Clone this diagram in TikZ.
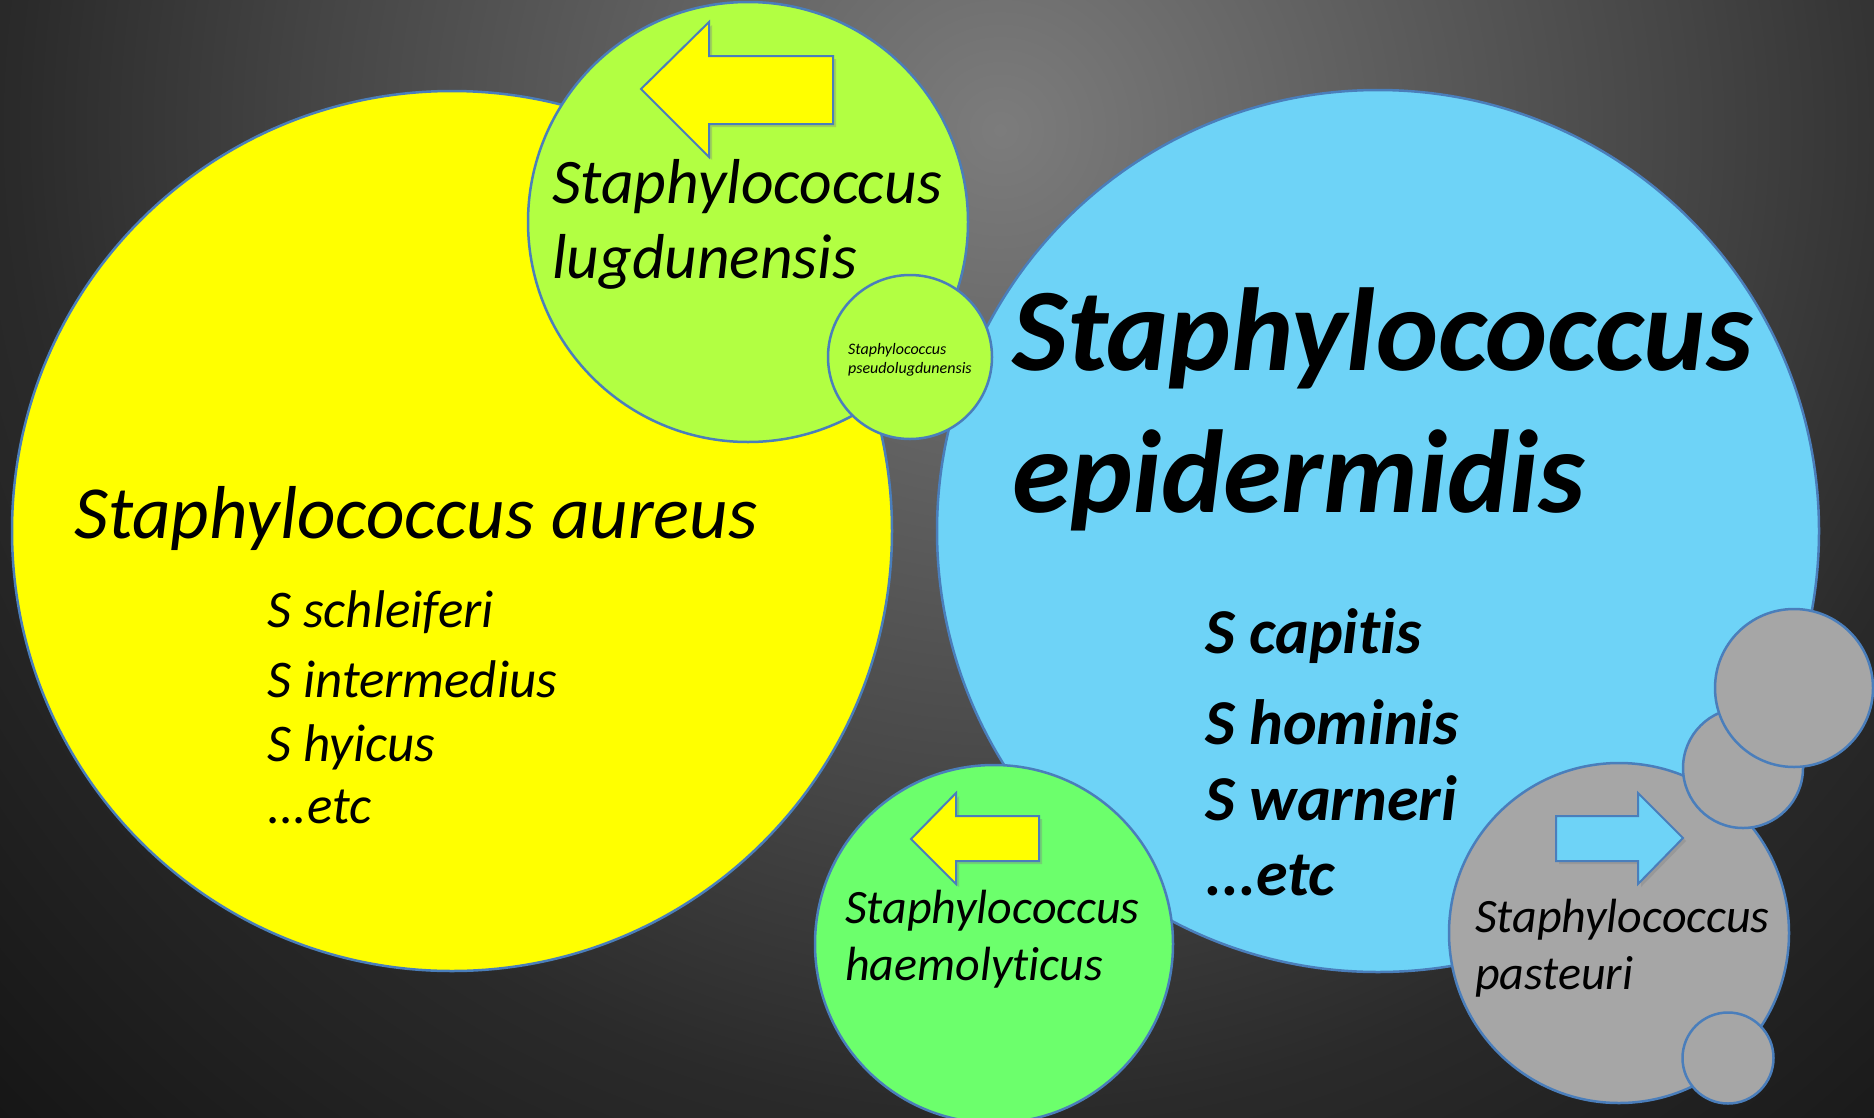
\documentclass[tikz,border=0pt]{standalone}
\usepackage{fontspec}
\setmainfont{Carlito}[Ligatures=NoCommon]
\usetikzlibrary{positioning, shadows}

\definecolor{edge}{RGB}{74,126,187}
\definecolor{aureusfill}{RGB}{255,255,0}
\definecolor{lugfill}{RGB}{178,255,66}
\definecolor{epifill}{RGB}{110,211,247}
\definecolor{haemofill}{RGB}{108,255,108}
\definecolor{pastfill}{RGB}{166,166,166}
\definecolor{bgA}{RGB}{124,124,124}
\definecolor{bgM}{RGB}{68,68,68}
\definecolor{bgN}{RGB}{42,42,42}
\definecolor{bgB}{RGB}{20,20,20}
\pgfdeclareradialshading{backdrop}{\pgfpoint{0bp}{0bp}}{color(0bp)=(bgA); color(12bp)=(bgM); color(17bp)=(bgN); color(25bp)=(bgB); color(50bp)=(bgB)}

\begin{document}
\begin{tikzpicture}[
    x=1pt, y=-1pt,
    bubble/.style={
        circle,
        draw=edge,
        line width=2.5pt,
        inner sep=0pt
    },
    species/.style={anchor=base west, inner sep=0pt, font=\itshape\fontsize{#1}{#1}\selectfont},
    bigspecies/.style={anchor=base west, inner sep=0pt, font=\bfseries\itshape\fontsize{#1}{#1}\selectfont},
    blockarrow/.style={draw=edge, line width=2pt, line join=miter,
        drop shadow={shadow xshift=3pt, shadow yshift=-3pt, opacity=0.35}}
]

% --- fondo ---
\useasboundingbox (0,0) rectangle (1874,1117);
\begin{scope}
\clip (0,0) rectangle (1874,1117);
\fill[bgB] (0,0) rectangle (1874,1117);
\shade[shading=backdrop] (1000,130) circle (1450);
\end{scope}

% --- circulos grandes ---
\node[bubble, fill=aureusfill, minimum size=880pt] (aureus) at (452,531) {};
\node[bubble, fill=epifill, minimum size=882pt] (epi) at (1378,531) {};

% --- lugdunensis ---
\node[bubble, fill=lugfill, minimum size=440pt] (lug) at (748,222) {};
\node[bubble, fill=lugfill, minimum size=164pt] (pseudo) at (910,357) {};

% --- haemolyticus + pasteuri ---
\node[bubble, fill=haemofill, minimum size=358pt] (haemo) at (994,944) {};
\node[bubble, fill=pastfill, minimum size=340pt] (past) at (1619,933) {};
\node[bubble, fill=pastfill, minimum size=91pt] (pastc) at (1728,1058) {};
\node[bubble, fill=pastfill, minimum size=120pt] (pastb) at (1743,768) {};
\node[bubble, fill=pastfill, minimum size=158pt] (pasta) at (1794,688) {};

% --- flechas ---
\draw[blockarrow, fill=aureusfill]
(833,56) -- (709,56) -- (709,22) -- (641,89) -- (709,157) -- (709,124) -- (833,124) -- cycle;
\draw[blockarrow, fill=aureusfill]
(1039,816) -- (956,816) -- (956,793) -- (911,839) -- (956,884) -- (956,861) -- (1039,861) -- cycle;
\draw[blockarrow, fill=epifill]
(1556,816) -- (1638,816) -- (1638,793) -- (1683,838) -- (1638,884) -- (1638,861) -- (1556,861) -- cycle;

% --- textos ---
\node[species=75] (aureusname) at (74,538) {Staphylococcus aureus};
\node[species=53] (schleiferi) at (267,627) {S schleiferi};
\node[species=53] (intermedius) at (267,697) {S intermedius};
\node[species=53] (hyicus) at (267,761) {S hyicus};
\node[species=53] (aureusetc) at (267,823) {...etc};

\node[species=63.5] (lugA) at (552,203) {Staphylococcus};
\node[species=63.5] (lugB) at (552,278) {lugdunensis};
\node[species=16] (pseudoA) at (848,354) {Staphylococcus};
\node[species=16] (pseudoB) at (848,373) {pseudolugdunensis};

\node[bigspecies=118] (epiA) at (1012,370) {Staphylococcus};
\node[bigspecies=118] (epiB) at (1012,512) {epidermidis};
\node[bigspecies=64] (capitis) at (1205,653) {S capitis};
\node[bigspecies=64] (hominis) at (1205,744) {S hominis};
\node[bigspecies=64] (warneri) at (1205,820) {S warneri};
\node[bigspecies=64] (epietc) at (1205,895) {...etc};

\node[species=48] (haemoA) at (845,923) {Staphylococcus};
\node[species=48] (haemoB) at (845,980) {haemolyticus};
\node[species=48] (pastA) at (1475,932) {Staphylococcus};
\node[species=48] (pastB) at (1475,989) {pasteuri};

\end{tikzpicture}
\end{document}
